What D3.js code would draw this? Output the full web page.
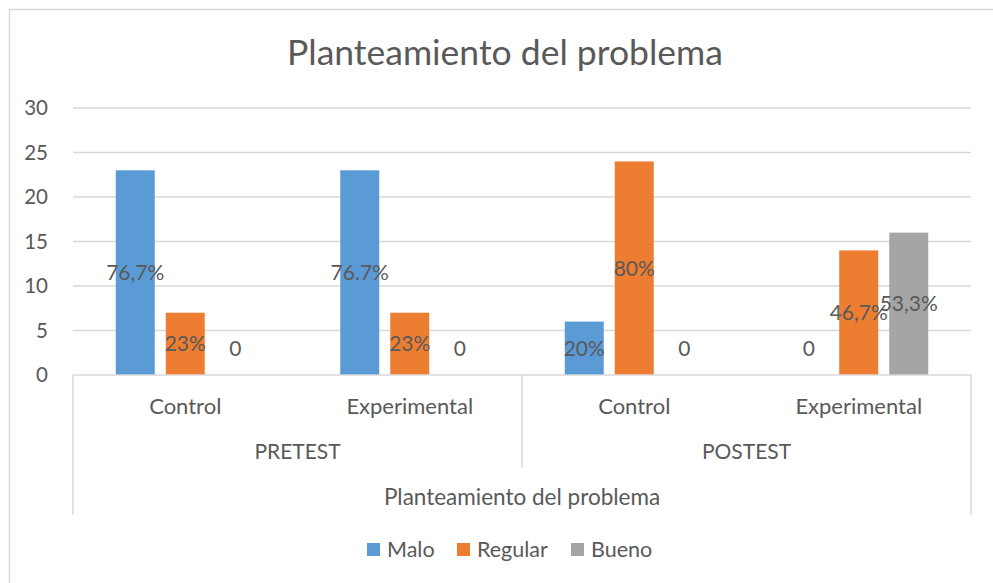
<!DOCTYPE html>
<html>
<head>
<meta charset="utf-8">
<script src="https://cdn.jsdelivr.net/npm/d3@7"></script>
<style>
  body { margin: 0; background: #fff; }
  svg text { font-family: Lato, "Liberation Sans", sans-serif; fill: #595959; }
</style>
</head>
<body>
<svg id="chart" width="993" height="583"></svg>
<script>
// chart data
const groups = ["PRETEST", "POSTEST"];
const subgroups = ["Control", "Experimental"];
const series = ["Malo", "Regular", "Bueno"];
const colors = ["#5B9BD5", "#ED7D31", "#A5A5A5"];
const yTicks = [0, 5, 10, 15, 20, 25, 30];

// one array per series, order: PRETEST Control, PRETEST Experimental, POSTEST Control, POSTEST Experimental
const malo = [23, 23, 6, 0];
const regular = [7, 7, 24, 14];
const bueno = [0, 0, 0, 16];
const maloLabels = ["76,7%", "76.7%", "20%", "0"];
const regularLabels = ["23%", "23%", "80%", "46,7%"];
const buenoLabels = ["0", "0", "0", "53,3%"];

const values = [malo, regular, bueno];
const labels = [maloLabels, regularLabels, buenoLabels];

const svg = d3.select("#chart");
const plotLeft = 73, plotRight = 971, plotTop = 108, plotBottom = 375;

// outer frame of the chart
svg.append("rect")
  .attr("x", 9.5).attr("y", 9.5)
  .attr("width", 1000).attr("height", 600)
  .attr("fill", "none").attr("stroke", "#D9D9D9").attr("stroke-width", 1.5);

// title
svg.append("text")
  .attr("x", 505).attr("y", 65)
  .attr("text-anchor", "middle")
  .style("font-size", "35.5px")
  .text("Planteamiento del problema");

const cats = [];
groups.forEach(g => subgroups.forEach(s => cats.push(g + "|" + s)));

const x = d3.scaleBand().domain(cats).range([plotLeft, plotRight]);
const xs = d3.scaleBand().domain(series).range([0, x.bandwidth()])
  .paddingInner(0.22).paddingOuter(0.855);
const y = d3.scaleLinear().domain([0, 30]).range([plotBottom, plotTop]);

// gridlines
svg.append("g")
  .selectAll("line")
  .data(yTicks.slice(1))
  .join("line")
  .attr("x1", plotLeft).attr("x2", plotRight)
  .attr("y1", d => y(d)).attr("y2", d => y(d))
  .attr("stroke", "#D9D9D9").attr("stroke-width", 1.3);

// y axis labels
const yAxis = d3.axisLeft(y).tickValues(yTicks).tickSize(0).tickPadding(25);
const yg = svg.append("g").attr("transform", `translate(${plotLeft},0)`).call(yAxis);
yg.select(".domain").remove();
yg.selectAll("text").style("font-size", "20.5px").attr("fill", "#595959")
  .style("font-family", "Lato, 'Liberation Sans', sans-serif");

// bars
series.forEach((s, si) => {
  svg.append("g")
    .selectAll("rect")
    .data(cats.map((c, i) => ({ c, v: values[si][i], label: labels[si][i] })))
    .join("rect")
    .attr("x", d => x(d.c) + xs(s))
    .attr("y", d => y(d.v))
    .attr("width", xs.bandwidth())
    .attr("height", d => y(0) - y(d.v))
    .attr("fill", colors[si]);
});

// data labels (centered in bar, kept above the axis)
series.forEach((s, si) => {
  svg.append("g")
    .selectAll("text")
    .data(cats.map((c, i) => ({ c, v: values[si][i], label: labels[si][i] })))
    .join("text")
    .attr("x", d => x(d.c) + xs(s) + xs.bandwidth() / 2)
    .attr("y", d => Math.min(y(d.v / 2), y(0) - 26))
    .attr("dy", "0.35em")
    .attr("text-anchor", "middle")
    .style("font-size", "21px")
    .text(d => d.label);
});

// category axis lines
const axisColor = "#D9D9D9";
svg.append("line").attr("x1", plotLeft).attr("x2", plotRight).attr("y1", plotBottom).attr("y2", plotBottom)
  .attr("stroke", axisColor).attr("stroke-width", 1.5);
svg.append("line").attr("x1", plotLeft).attr("x2", plotLeft).attr("y1", plotBottom).attr("y2", 515)
  .attr("stroke", axisColor).attr("stroke-width", 1.5);
svg.append("line").attr("x1", plotRight).attr("x2", plotRight).attr("y1", plotBottom).attr("y2", 515)
  .attr("stroke", axisColor).attr("stroke-width", 1.5);
svg.append("line")
  .attr("x1", x(cats[2])).attr("x2", x(cats[2]))
  .attr("y1", plotBottom).attr("y2", 468)
  .attr("stroke", axisColor).attr("stroke-width", 1.5);

// subgroup labels
svg.append("g")
  .selectAll("text")
  .data(cats)
  .join("text")
  .attr("x", d => x(d) + x.bandwidth() / 2)
  .attr("y", 414)
  .attr("text-anchor", "middle")
  .style("font-size", "22px")
  .text(d => d.split("|")[1]);

// group labels
svg.append("g")
  .selectAll("text")
  .data(groups)
  .join("text")
  .attr("x", g => x(g + "|" + subgroups[0]) + x.bandwidth())
  .attr("y", 459)
  .attr("text-anchor", "middle")
  .style("font-size", "21px")
  .text(g => g);

// axis title
svg.append("text")
  .attr("x", (plotLeft + plotRight) / 2).attr("y", 505)
  .attr("text-anchor", "middle")
  .style("font-size", "22.5px")
  .text("Planteamiento del problema");

// legend
const legendX = [367, 457, 571];
const lg = svg.append("g");
series.forEach((s, i) => {
  lg.append("rect")
    .attr("x", legendX[i]).attr("y", 543)
    .attr("width", 13).attr("height", 13)
    .attr("fill", colors[i]);
  lg.append("text")
    .attr("x", legendX[i] + 20).attr("y", 557)
    .style("font-size", "21.5px")
    .text(s);
});
</script>
</body>
</html>
